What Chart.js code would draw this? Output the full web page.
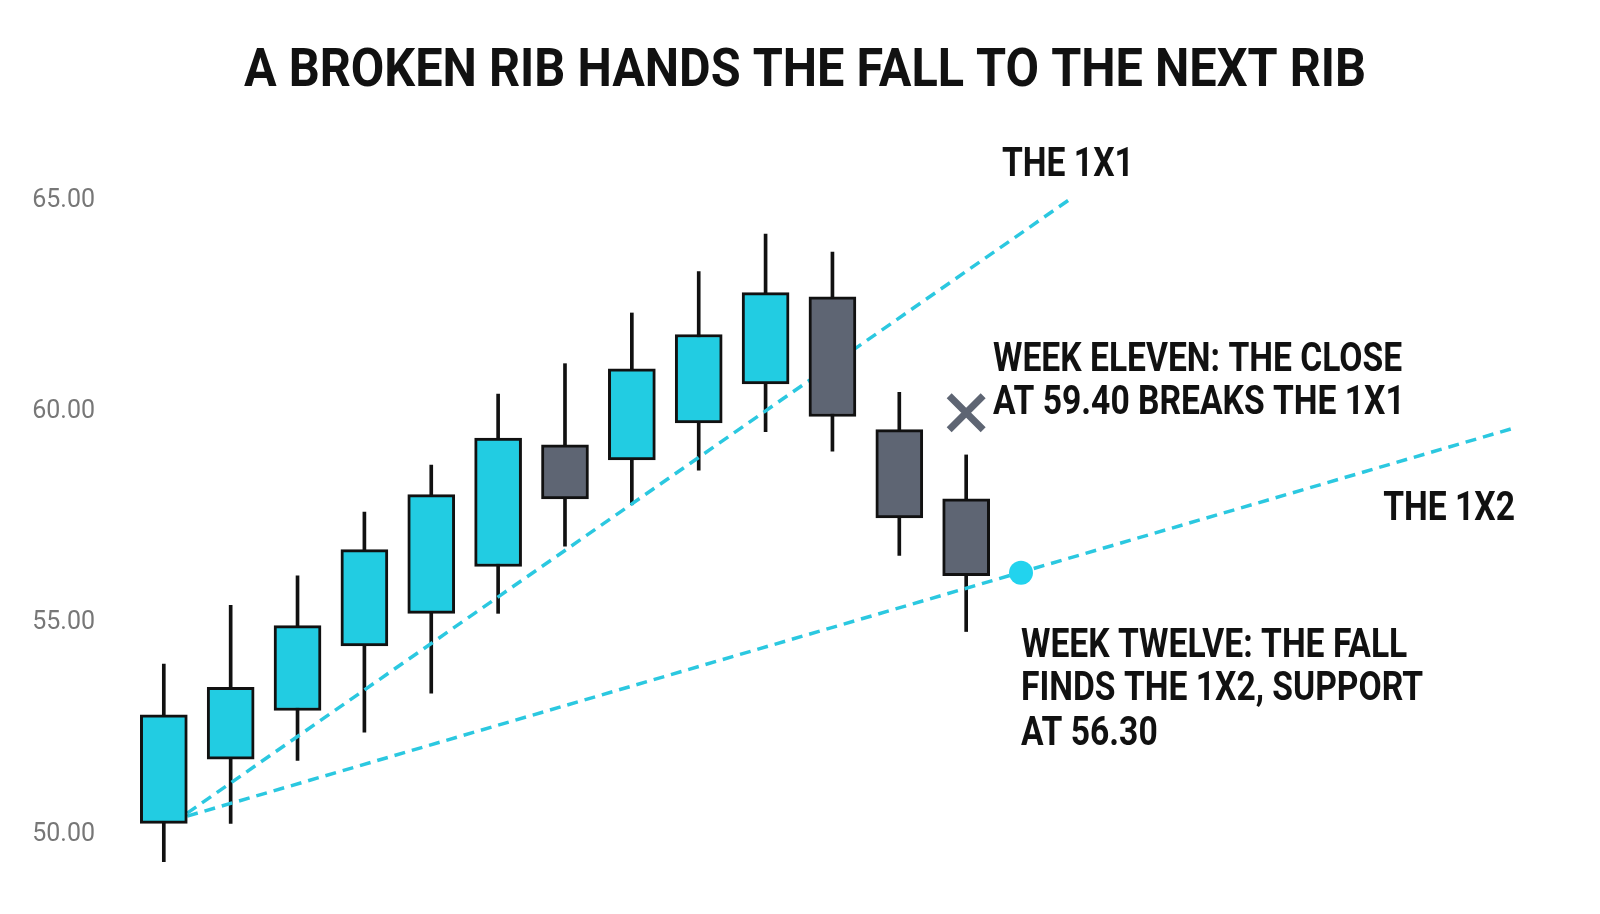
<!DOCTYPE html>
<html><head><meta charset="utf-8">
<script src="https://cdn.jsdelivr.net/npm/chart.js@4"></script>
<style>html,body{margin:0;background:#fff}#w{width:1600px;height:914px}</style>
</head><body><div id="w"><canvas id="c"></canvas></div>
<script>
const weeks = [0,1,2,3,4,5,6,7,8,9,10,11,12];
const opens = [50.26,51.78,52.93,54.46,55.23,56.34,59.22,58.86,59.74,60.66,62.72,59.58,57.94];
const closes = [52.83,53.48,54.94,56.74,58.04,59.38,57.94,61.02,61.83,62.82,59.89,57.49,56.12];
const highs = [54.03,55.42,56.12,57.63,58.74,60.42,61.14,62.34,63.32,64.21,63.78,60.46,58.98];
const lows = [49.35,50.26,51.75,52.42,53.34,55.23,56.82,57.80,58.62,59.53,59.07,56.60,54.80];
const line1x1 = [{x:0.35,y:50.5},{x:13.54,y:65.02}];
const line1x2 = [{x:0.35,y:50.43},{x:20.2,y:59.62}];
const supportPoint = [{x:12.82,y:56.19}];
const breakMark = {x:12, y:59.98};
const yTicks = [50,55,60,65];
const UP='#22CCE2', DOWN='#5E6573', LINE='#2BC8E0';
const F='"Roboto","Liberation Sans",sans-serif';
const texts = [
 {t:'A BROKEN RIB HANDS THE FALL TO THE NEXT RIB',x:805,y:72,a:'center',s:54,k:0.9},
 {t:'THE 1X1',x:1002,y:166,a:'left',s:41,k:0.82},
 {t:'WEEK ELEVEN: THE CLOSE',x:993,y:361,a:'left',s:41,k:0.82},
 {t:'AT 59.40 BREAKS THE 1X1',x:993,y:404,a:'left',s:41,k:0.82},
 {t:'THE 1X2',x:1515,y:510,a:'right',s:41,k:0.82},
 {t:'WEEK TWELVE: THE FALL',x:1021,y:647,a:'left',s:41,k:0.82},
 {t:'FINDS THE 1X2, SUPPORT',x:1021,y:690,a:'left',s:41,k:0.82},
 {t:'AT 56.30',x:1021,y:735,a:'left',s:41,k:0.82}
];
const textPlugin={id:'txt',afterDraw(ch){const c=ch.ctx;c.save();
 const xs=ch.scales.x, ys=ch.scales.y;
 const px=xs.getPixelForValue(breakMark.x), py=ys.getPixelForValue(breakMark.y), r=17;
 c.strokeStyle=DOWN;c.lineWidth=7;c.beginPath();
 c.moveTo(px-r,py-r);c.lineTo(px+r,py+r);c.moveTo(px+r,py-r);c.lineTo(px-r,py+r);c.stroke();
 c.fillStyle='#111';c.textBaseline='middle';
 for(const o of texts){c.save();c.translate(o.x,o.y);c.scale(o.k,1);
  c.font='bold '+o.s+'px '+F;c.textAlign=o.a;c.fillText(o.t,0,0);c.restore();}
 c.restore();}};
const bodies = weeks.map((w,i)=>({x:w,y:[opens[i],closes[i]]}));
const wicks = weeks.map((w,i)=>({x:w,y:[lows[i],highs[i]]}));
new Chart(document.getElementById('c'),{
 data:{datasets:[
  {type:'bar',data:wicks,backgroundColor:'#111',barThickness:3,grouped:false,order:3},
  {type:'line',data:line1x1,borderColor:LINE,borderWidth:3.5,borderDash:[11,7],pointRadius:0,order:2},
  {type:'line',data:line1x2,borderColor:LINE,borderWidth:3.5,borderDash:[11,7],pointRadius:0,order:2},
  {type:'bar',data:bodies,backgroundColor:weeks.map(i=>closes[i]>=opens[i]?UP:DOWN),borderColor:'#111',borderWidth:3,borderSkipped:false,barThickness:47,grouped:false,order:1},
  {type:'scatter',data:supportPoint,backgroundColor:'#22D3EE',borderWidth:0,pointRadius:12,order:0}
 ]},
 options:{responsive:true,maintainAspectRatio:false,animation:false,
  layout:{padding:{top:133,bottom:21,right:11,left:0}},
  plugins:{legend:{display:false},tooltip:{enabled:false}},
  scales:{
   x:{type:'linear',min:-0.7,max:21.3,display:false,offset:false},
   y:{min:48.8,max:66.6,grid:{display:false},border:{display:false},
      afterFit(s){s.width=117;},
      afterBuildTicks(s){s.ticks=yTicks.map(v=>({value:v}));},
      ticks:{color:'#777',font:{size:25,family:F},padding:14,callback:v=>v.toFixed(2)}}
  }},
 plugins:[textPlugin]});
</script></body></html>
